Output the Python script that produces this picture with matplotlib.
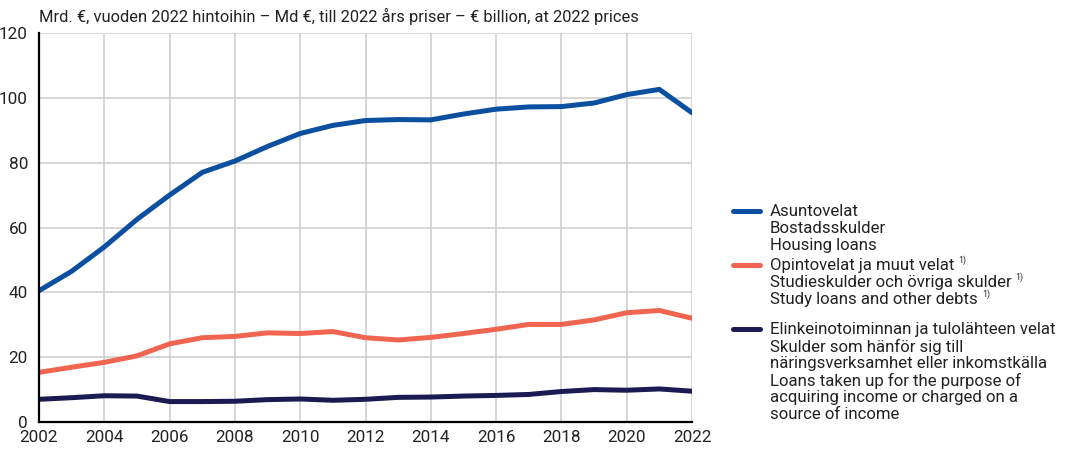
import matplotlib
matplotlib.use('Agg')
import matplotlib.pyplot as plt
from matplotlib.lines import Line2D

plt.rcParams['font.family'] = ['Roboto', 'DejaVu Sans']

# --- Data (Mrd. €, 2022 prices) ---
years = list(range(2002, 2023))
housing = [40.5, 46.5, 54.0, 62.5, 70.0, 77.0, 80.5, 85.0, 89.0, 91.5, 93.0,
           93.3, 93.2, 95.0, 96.5, 97.2, 97.3, 98.4, 101.0, 102.6, 95.4]
study = [15.3, 16.9, 18.4, 20.4, 24.1, 26.0, 26.4, 27.5, 27.3, 27.9, 26.0,
         25.3, 26.1, 27.3, 28.6, 30.1, 30.1, 31.5, 33.7, 34.4, 32.0]
business = [7.0, 7.5, 8.1, 8.0, 6.3, 6.3, 6.4, 6.9, 7.1, 6.7, 7.0,
            7.6, 7.7, 8.0, 8.2, 8.5, 9.4, 10.0, 9.8, 10.2, 9.5]

# each label row: (text, has footnote mark)
labels = [
    [('Asuntovelat', False), ('Bostadsskulder', False), ('Housing loans', False)],
    [('Opintovelat ja muut velat', True), ('Studieskulder och övriga skulder', True),
     ('Study loans and other debts', True)],
    [('Elinkeinotoiminnan ja tulolähteen velat', False), ('Skulder som hänför sig till', False),
     ('näringsverksamhet eller inkomstkälla', False), ('Loans taken up for the purpose of', False),
     ('acquiring income or charged on a', False), ('source of income', False)],
]
colors = ['#0a4fa0', '#f0654f', '#1b1a52']
title = 'Mrd. €, vuoden 2022 hintoihin – Md €, till 2022 års priser – € billion, at 2022 prices'

W, H = 1069, 451
fig = plt.figure(figsize=(W / 100, H / 100), dpi=100)
ax = fig.add_axes([39 / W, 1 - 422 / H, (692 - 39) / W, (422 - 33) / H])

for vals, c in zip([housing, study, business], colors):
    ax.plot(years, vals, color=c, lw=3.6, solid_capstyle='round', solid_joinstyle='round', zorder=3)

ax.set_xlim(2002, 2022)
ax.set_ylim(0, 120)
ax.set_xticks(range(2002, 2023, 2))
ax.set_yticks(range(0, 121, 20))
ax.grid(color='#cccccc', lw=1.1)
ax.set_axisbelow(True)
for s in ['top', 'right']:
    ax.spines[s].set_visible(False)
for s in ['left', 'bottom']:
    ax.spines[s].set_linewidth(1.6)
    ax.spines[s].set_color('black')
    ax.spines[s].set_zorder(4)
ax.tick_params(length=0, labelsize=12.3, colors='#222222')
ax.tick_params(axis='y', pad=8)
ax.tick_params(axis='x', pad=6)

fig.text(39 / W, 1 - 16 / H, title, fontsize=11.9, color='#222222', va='center', ha='left')

# legend, drawn by hand so the line sits by the first row of each label
renderer = fig.canvas.get_renderer()
first_rows = [210, 264, 328]
row_h = 17
for rows, c, y0 in zip(labels, colors, first_rows):
    fig.add_artist(Line2D([733 / W, 760 / W], [1 - (y0 + 1) / H] * 2, color=c, lw=3.6,
                          solid_capstyle='round', transform=fig.transFigure))
    for i, (txt, note) in enumerate(rows):
        y = y0 + i * row_h
        t = fig.text(770 / W, 1 - y / H, txt, fontsize=12.1, color='#222222',
                     va='center_baseline', ha='left')
        if note:
            bb = t.get_window_extent(renderer)
            fig.text((bb.x1 + 4) / W, 1 - (y - 4) / H, '1)', fontsize=6.3, color='#222222',
                     va='center', ha='left')

fig.savefig('out.png', dpi=100)
